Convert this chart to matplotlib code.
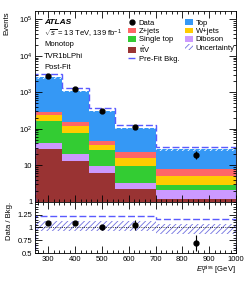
import matplotlib
matplotlib.use('Agg')
import matplotlib.pyplot as plt
import matplotlib.ticker as mticker
from matplotlib.patches import Patch
from matplotlib.lines import Line2D
import numpy as np

plt.rcParams['font.family'] = ['Liberation Sans', 'DejaVu Sans']
plt.rcParams['hatch.linewidth'] = 0.6
plt.rcParams['mathtext.fontset'] = 'custom'
plt.rcParams['mathtext.rm'] = 'Liberation Sans'
plt.rcParams['mathtext.it'] = 'Liberation Sans:italic'

# bins in MET [GeV]
edges = [250, 350, 450, 550, 700, 1000]
centers = [300, 400, 500, 625, 850]

# post-fit backgrounds (stacked bottom -> top)
ttv = [28.6, 13.3, 6.2, 2.26, 1.17]
diboson = [11.4, 7.3, 3.3, 0.94, 0.9]
singletop = [125, 57, 16, 6.4, 0.8]
wjets = [70, 40, 11.5, 5.9, 2.3]
zjets = [50, 34, 10.5, 7.5, 2.8]
top = [2315, 958, 263, 84, 20]
colors = ['#993333', '#cc99ff', '#33cc33', '#ffcc00', '#ff6666', '#3598f5']

data = [2800, 1200, 310, 112, 19.5]
prefit = [3170, 1354, 378, 130, 32.5]

# ratio panel
ratio = [1.077, 1.08, 1.0, 1.05, 0.7]
ratio_err = [0.02, 0.03, 0.055, 0.1, 0.16]
prefit_ratio = [1.23, 1.23, 1.22, 1.22, 1.17]
unc_up = [1.12, 1.12, 1.12, 1.12, 1.07]
unc_dn = [0.92, 0.92, 0.92, 0.92, 0.88]

fs = 5.5
pre_color = '#5a5aff'
unc_color = '#7070e0'

fig = plt.figure(figsize=(2.49, 2.81), dpi=100)
ax = fig.add_axes([0.1406, 0.282, 0.807, 0.679])
rax = fig.add_axes([0.1406, 0.0996, 0.807, 0.1825], sharex=ax)

stack = [ttv, diboson, singletop, wjets, zjets, top]
bottom = np.zeros(5)
for vals, c in zip(stack, colors):
    ax.bar(edges[:-1], vals, width=np.diff(edges), bottom=bottom, align='edge',
           color=c, linewidth=0)
    bottom = bottom + np.array(vals)
total = bottom

# uncertainty on total
ax.stairs(total * np.array(unc_up), edges, baseline=total * np.array(unc_dn),
          fill=True, facecolor='none', edgecolor='white', hatch='//////', linewidth=0)
ax.stairs(prefit, edges, color=pre_color, linestyle=(0, (5, 2)), linewidth=1.0)
ax.errorbar(centers, data, yerr=np.sqrt(data), fmt='o', color='black',
            markersize=3.5, elinewidth=0.8, capsize=0)

ax.set_yscale('log')
ax.set_ylim(1, 1.7e5)
ax.set_xlim(250, 1000)

def logfmt(v, pos):
    if abs(v - 1) < 1e-9:
        return '1'
    if abs(v - 10) < 1e-9:
        return '10'
    return r'$10^{%d}$' % int(round(np.log10(v)))
ax.yaxis.set_major_formatter(mticker.FuncFormatter(logfmt))
ax.yaxis.set_minor_locator(mticker.LogLocator(subs=np.arange(2, 10), numticks=20))
ax.yaxis.set_minor_formatter(mticker.NullFormatter())
ax.xaxis.set_minor_locator(mticker.MultipleLocator(20))
plt.setp(ax.get_xticklabels(), visible=False)

for a in (ax, rax):
    a.tick_params(which='both', direction='in', top=True, right=True, labelsize=fs,
                  width=0.6, pad=2)
    a.tick_params(which='major', length=5)
    a.tick_params(which='minor', length=2.5)
    for s in a.spines.values():
        s.set_linewidth(0.6)

ax.set_ylabel('Events', fontsize=fs, loc='top', labelpad=6)

# text
ax.text(0.045, 0.937, 'ATLAS', transform=ax.transAxes, fontsize=6,
        fontweight='bold', fontstyle='italic', va='center')
ax.text(0.045, 0.88, r'$\sqrt{s}$ = 13 TeV, 139 fb$^{-1}$', transform=ax.transAxes,
        fontsize=fs, va='center')
ax.text(0.045, 0.822, 'Monotop', transform=ax.transAxes, fontsize=fs, va='center')
ax.text(0.045, 0.762, 'TVR1bLPhi', transform=ax.transAxes, fontsize=fs, va='center')
ax.text(0.045, 0.702, 'Post-Fit', transform=ax.transAxes, fontsize=fs, va='center')

h_data = Line2D([], [], marker='o', color='black', linestyle='none', markersize=3.5)
h_pre = Line2D([], [], color=pre_color, linestyle=(0, (5, 2)), linewidth=1.0)
h_unc = Patch(facecolor='white', edgecolor=unc_color, hatch='//////', linewidth=0)
handles = [h_data, Patch(facecolor=colors[4]), Patch(facecolor=colors[2]),
           Patch(facecolor=colors[0]), h_pre,
           Patch(facecolor=colors[5]), Patch(facecolor=colors[3]),
           Patch(facecolor=colors[1]), h_unc]
labels = ['Data', 'Z+jets', 'Single top', r'$\mathrm{t\bar{t}V}$', 'Pre-Fit Bkg.',
          'Top', 'W+jets', 'Diboson', 'Uncertainty']
ax.legend(handles, labels, ncol=2, loc='upper left', bbox_to_anchor=(0.455, 0.964),
          fontsize=fs, frameon=False, handlelength=1.0, handleheight=0.8,
          handletextpad=0.4, columnspacing=0.74, labelspacing=0.09,
          borderaxespad=0, borderpad=0.2)

# ratio panel
rax.stairs(unc_up, edges, baseline=unc_dn, fill=True, facecolor='none',
           edgecolor=unc_color, hatch='//////', linewidth=0)
rax.stairs(prefit_ratio, edges, color=pre_color, linestyle=(0, (5, 2)), linewidth=1.0)
rax.axhline(1, color='black', linestyle=':', linewidth=0.6)
rax.errorbar(centers, ratio, yerr=ratio_err, fmt='o', color='black',
             markersize=3.5, elinewidth=0.8, capsize=0)
rax.set_ylim(0.5, 1.5)
rax.set_yticks([0.5, 0.75, 1, 1.25])
rax.set_yticklabels(['0.5', '0.75', '1', '1.25'])
rax.yaxis.set_minor_locator(mticker.MultipleLocator(0.05))
rax.set_xticks([300, 400, 500, 600, 700, 800, 900, 1000])
rax.set_ylabel('Data / Bkg.', fontsize=fs, loc='top', labelpad=3)
rax.set_xlabel(r'$E_{\mathrm{T}}^{\mathrm{miss}}$ [GeV]', fontsize=fs, loc='right',
               labelpad=1)
fig.align_ylabels([ax, rax])

fig.savefig('out.png', dpi=100)
